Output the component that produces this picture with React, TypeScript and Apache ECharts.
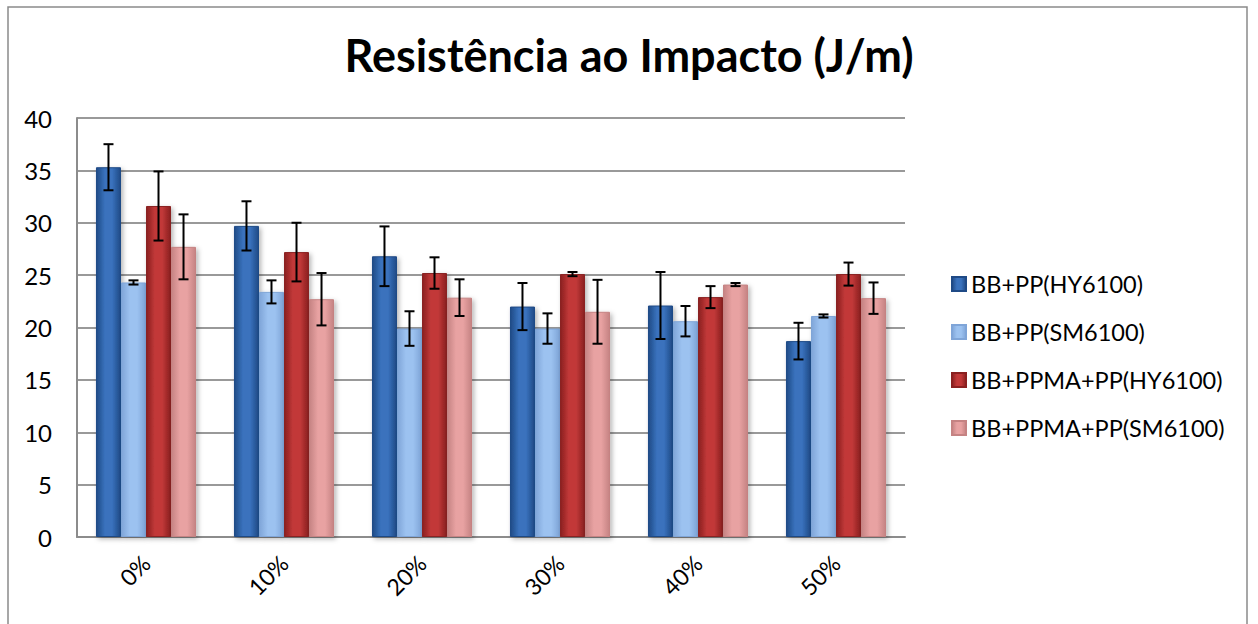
import React, { useEffect, useRef } from "react";
import * as echarts from "echarts";

const categories = ["0%", "10%", "20%", "30%", "40%", "50%"];
const seriesNames = ["BB+PP(HY6100)", "BB+PP(SM6100)", "BB+PPMA+PP(HY6100)", "BB+PPMA+PP(SM6100)"];
const hyPP = [35.3, 29.7, 26.8, 22.0, 22.1, 18.7];
const smPP = [24.3, 23.4, 19.9, 19.9, 20.6, 21.1];
const hyPPMA = [31.6, 27.2, 25.2, 25.1, 22.9, 25.1];
const smPPMA = [27.7, 22.7, 22.85, 21.5, 24.1, 22.8];
const hyPPErr = [2.2, 2.35, 2.85, 2.25, 3.2, 1.75];
const smPPErr = [0.2, 1.1, 1.65, 1.45, 1.45, 0.15];
const hyPPMAErr = [3.3, 2.8, 1.5, 0.2, 1.05, 1.1];
const smPPMAErr = [3.1, 2.5, 1.75, 3.05, 0.15, 1.5];
const yTicks = [0, 5, 10, 15, 20, 25, 30, 35, 40];

const values = [hyPP, smPP, hyPPMA, smPPMA];
const errors = [hyPPErr, smPPErr, hyPPMAErr, smPPMAErr];

const gradient = (edge: string, mid: string) =>
  new echarts.graphic.LinearGradient(0, 0, 1, 0, [
    { offset: 0, color: edge },
    { offset: 0.35, color: mid },
    { offset: 0.65, color: mid },
    { offset: 1, color: edge },
  ]);

const palette = [
  ["#1F4A86", "#3A72BD"],
  ["#7FA5D8", "#9CC2F0"],
  ["#8A2020", "#C23838"],
  ["#C58383", "#E8A2A2"],
];

const GAP = 0.275;

export default function App() {
  const ref = useRef<HTMLDivElement>(null);
  useEffect(() => {
    if (!ref.current) return;
    const chart = echarts.init(ref.current, null, { renderer: "svg" });
    const barSeries = seriesNames.map((name, i) => ({
      name,
      type: "bar",
      data: values[i],
      barGap: "0%",
      barCategoryGap: "27.5%",
      itemStyle: {
        color: gradient(palette[i][0], palette[i][1]),
        borderColor: palette[i][0],
        borderWidth: 1,
        shadowColor: "rgba(0,0,0,0.3)",
        shadowBlur: 5,
        shadowOffsetX: 2,
        shadowOffsetY: 2,
      },
      z: 2,
    }));
    const errSeries = seriesNames.map((name, s) => ({
      name: name + " err",
      type: "custom",
      z: 5,
      data: values[s].map((v, c) => [c, v, errors[s][c]]),
      renderItem: (params: any, api: any) => {
        const cat = api.value(0);
        const v = api.value(1);
        const e = api.value(2);
        const bandW = api.size([1, 0])[0];
        const barW = (bandW * (1 - GAP)) / 4;
        const c = api.coord([cat, v]);
        const x = c[0] + (s - 1.5) * barW;
        const top = api.coord([cat, v + e])[1];
        const bot = api.coord([cat, v - e])[1];
        const half = 5;
        const st = { stroke: "#000", lineWidth: 2 };
        return {
          type: "group",
          children: [
            { type: "line", shape: { x1: x, y1: top, x2: x, y2: bot }, style: st },
            { type: "line", shape: { x1: x - half, y1: top, x2: x + half, y2: top }, style: st },
            { type: "line", shape: { x1: x - half, y1: bot, x2: x + half, y2: bot }, style: st },
          ],
        };
      },
      tooltip: { show: false },
    }));
    chart.setOption({
      animation: false,
      textStyle: { fontFamily: "Lato" },
      title: {
        text: "Resistência ao Impacto (J/m)",
        left: "center",
        top: 27,
        textStyle: { fontFamily: "Lato", fontWeight: "bold", fontSize: 45, color: "#000" },
      },
      graphic: [
        {
          type: "rect",
          shape: { x: 8, y: 7, width: 1239, height: 640 },
          style: { fill: "none", stroke: "#8a8a8a", lineWidth: 1.5 },
          silent: true,
          z: 0,
        },
      ],
      legend: {
        orient: "vertical",
        left: 946,
        top: 267,
        data: seriesNames,
        icon: "rect",
        itemWidth: 14,
        itemHeight: 14,
        itemGap: 24,
        textStyle: { fontFamily: "Lato", fontSize: 23.5, color: "#000", lineHeight: 24 },
      },
      grid: { left: 77, right: 353, top: 118, bottom: 87, containLabel: false },
      xAxis: {
        type: "category",
        data: categories,
        axisLine: { lineStyle: { color: "#8c8c8c", width: 2 } },
        axisTick: { show: false },
        axisLabel: { rotate: 45, fontSize: 23, color: "#000", margin: 22, fontFamily: "Lato" },
      },
      yAxis: {
        type: "value",
        min: 0,
        max: 40,
        interval: 5,
        axisLine: { show: true, lineStyle: { color: "#8c8c8c", width: 2 } },
        axisTick: { show: false },
        splitLine: { lineStyle: { color: "#999", width: 2 } },
        axisLabel: {
          fontSize: 24,
          color: "#000",
          margin: 25,
          fontFamily: "Lato",
          formatter: (v: number) => (yTicks.includes(v) ? String(v) : ""),
        },
      },
      series: [...barSeries, ...errSeries],
    });
    return () => chart.dispose();
  }, []);
  return (
    <div
      ref={ref}
      style={{ position: "absolute", left: 0, top: 0, width: 1258, height: 624, background: "#fff" }}
    />
  );
}
